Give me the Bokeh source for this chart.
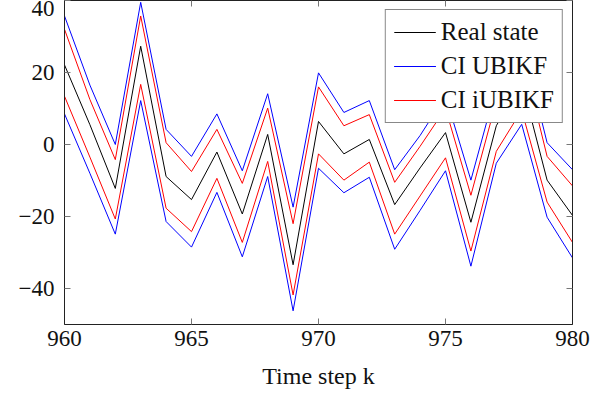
from bokeh.plotting import figure
from bokeh.models import (Range1d, LinearAxis, FixedTicker, Legend, LegendItem)
from bokeh.embed import file_html
from bokeh.resources import INLINE

# ---- data ----
steps = list(range(960, 981))
real_state = [22.1, 5.5, -12.2, 27.3, -8.9, -15.3, -2.1, -19.3, 2.8, -33.4, 6.4,
              -2.6, 1.4, -16.7, -6.5, 3.3, -21.6, 5.2, 17.5, -9.9, -19.7]
ubikf_upper = [35.7, 16.5, 0.0, 39.5, 4.2, -3.3, 8.5, -7.3, 14.1, -17.4, 19.9,
               8.9, 12.2, -7.0, 2.5, 13.5, -9.9, 16.0, 29.0, 0.5, -7.0]
ubikf_lower = [8.5, -8.0, -24.9, 12.2, -21.4, -28.5, -13.3, -31.2, -8.9, -46.2, -6.6,
               -13.4, -9.1, -29.1, -18.3, -7.3, -33.8, -5.2, 5.6, -20.2, -31.5]
iubikf_upper = [32.0, 12.5, -4.2, 35.7, 0.5, -7.5, 4.2, -10.8, 10.1, -22.0, 16.0,
                5.2, 8.3, -10.5, -0.5, 10.0, -14.1, 12.0, 25.5, -3.3, -11.5]
iubikf_lower = [13.4, -3.5, -20.7, 16.7, -17.7, -24.2, -9.4, -27.2, -4.7, -41.8, -2.6,
                -9.9, -4.9, -24.9, -14.3, -3.7, -29.6, -1.9, 9.5, -16.0, -27.2]

x_ticks = [960, 965, 970, 975, 980]
y_ticks = [-40, -20, 0, 20, 40]
y_tick_labels = ["\u221240", "\u221220", "0", "20", "40"]
legend_labels = ["Real state", "CI UBIKF", "CI iUBIKF"]
x_label = "Time step k"

FONT = "Liberation Serif"
FS = "23px"

p = figure(width=594, height=391, output_backend="svg", toolbar_location=None,
           x_range=Range1d(960, 980), y_range=Range1d(-50, 40),
           min_border_left=64, min_border_right=22, min_border_top=0, min_border_bottom=0)
p.xgrid.visible = False
p.ygrid.visible = False
p.outline_line_color = "#222222"
p.outline_line_width = 1
p.background_fill_color = "white"
p.border_fill_color = "white"

for ax in (p.xaxis[0], p.yaxis[0]):
    ax.major_tick_in = 6
    ax.major_tick_out = 0
    ax.minor_tick_line_color = None
    ax.axis_line_color = "#222222"
    ax.major_tick_line_color = "#777777"
    ax.major_label_text_font = FONT
    ax.major_label_text_font_size = FS
    ax.major_label_text_color = "#111111"

p.xaxis[0].major_label_standoff = 6
p.yaxis[0].major_label_standoff = 10
p.xaxis[0].ticker = FixedTicker(ticks=x_ticks)
p.yaxis[0].ticker = FixedTicker(ticks=y_ticks)
p.yaxis[0].major_label_overrides = {t: l for t, l in zip(y_ticks, y_tick_labels)}
p.xaxis[0].axis_label = x_label
p.xaxis[0].axis_label_text_font = FONT
p.xaxis[0].axis_label_text_font_size = "24px"
p.xaxis[0].axis_label_text_font_style = "normal"
p.xaxis[0].axis_label_text_color = "#111111"
p.xaxis[0].axis_label_standoff = 14

# mirrored tick marks on top and right (no labels)
top = LinearAxis(ticker=FixedTicker(ticks=x_ticks), major_tick_in=6, major_tick_out=0,
                 minor_tick_line_color=None, major_label_text_color=None,
                 major_label_text_font_size="1px",
                 major_label_standoff=0, axis_line_color="#222222",
                 major_tick_line_color="#777777")
right = LinearAxis(ticker=FixedTicker(ticks=y_ticks), major_tick_in=6, major_tick_out=0,
                   minor_tick_line_color=None, major_label_text_color=None,
                   major_label_text_font_size="1px",
                   major_label_standoff=0, axis_line_color="#222222",
                   major_tick_line_color="#777777")
p.add_layout(top, "above")
p.add_layout(right, "right")

r_real = p.line(steps, real_state, line_color="#000000", line_width=1)
r_bu = p.line(steps, ubikf_upper, line_color="#0000ff", line_width=1)
r_bl = p.line(steps, ubikf_lower, line_color="#0000ff", line_width=1)
r_ru = p.line(steps, iubikf_upper, line_color="#ff0000", line_width=1)
r_rl = p.line(steps, iubikf_lower, line_color="#ff0000", line_width=1)

legend = Legend(items=[
    LegendItem(label=legend_labels[0], renderers=[r_real]),
    LegendItem(label=legend_labels[1], renderers=[r_bu, r_bl]),
    LegendItem(label=legend_labels[2], renderers=[r_ru, r_rl]),
], location="top_right")
legend.label_text_font = FONT
legend.label_text_font_size = "25px"
legend.label_text_color = "#111111"
legend.glyph_width = 42
legend.glyph_height = 24
legend.label_height = 24
legend.spacing = 6
legend.padding = 8
legend.margin = 9
legend.label_standoff = 5
legend.border_line_color = "#111111"
legend.border_line_width = 1
legend.background_fill_alpha = 1.0
p.add_layout(legend, "center")

open("out.html", "w").write(file_html(p, INLINE))
